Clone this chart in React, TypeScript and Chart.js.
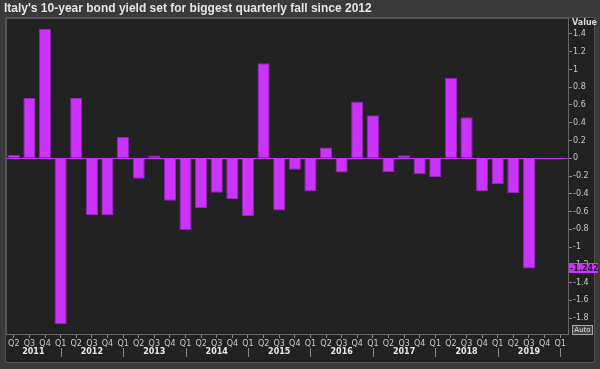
import React, { useEffect, useRef } from "react";
import { Chart, registerables } from "chart.js";

Chart.register(...registerables);

const chartTitle = "Italy's 10-year bond yield set for biggest quarterly fall since 2012";
const axisTitle = "Value";

const quarterLabels = [
  "Q2", "Q3", "Q4",
  "Q1", "Q2", "Q3", "Q4",
  "Q1", "Q2", "Q3", "Q4",
  "Q1", "Q2", "Q3", "Q4",
  "Q1", "Q2", "Q3", "Q4",
  "Q1", "Q2", "Q3", "Q4",
  "Q1", "Q2", "Q3", "Q4",
  "Q1", "Q2", "Q3", "Q4",
  "Q1", "Q2", "Q3", "Q4",
  "Q1",
];

const yearLabels = ["2011", "2012", "2013", "2014", "2015", "2016", "2017", "2018", "2019"];

const yieldChange = [
  0.04, 0.68, 1.46,
  -1.87, 0.68, -0.64, -0.64,
  0.24, -0.23, 0.03, -0.48,
  -0.81, -0.56, -0.39, -0.46,
  -0.65, 1.07, -0.59, -0.13,
  -0.37, 0.12, -0.16, 0.64,
  0.485, -0.155, 0.034, -0.18,
  -0.21, 0.906, 0.463, -0.37,
  -0.29, -0.395, -1.242, null,
  null,
];

const yTicks = [1.4, 1.2, 1, 0.8, 0.6, 0.4, 0.2, 0, -0.2, -0.4, -0.6, -0.8, -1, -1.2, -1.4, -1.6, -1.8];

const lastValue = -1.242;

const BAR = "#cc33ff";
const BAR_BORDER = "#9526b8";

const framePlugin = {
  id: "frame",
  beforeDraw(chart: any) {
    const ctx = chart.ctx;
    const { width, height } = chart;
    ctx.save();
    ctx.fillStyle = "#3a3a3a";
    ctx.fillRect(0, 0, width, height);
    ctx.fillStyle = "#222222";
    ctx.fillRect(6, 18, 588, 344);
    ctx.strokeStyle = "#555555";
    ctx.lineWidth = 1;
    ctx.strokeRect(5.5, 17.5, 589, 345);
    ctx.restore();
  },
  afterDraw(chart: any) {
    const ctx = chart.ctx;
    const xs = chart.scales.x;
    const ys = chart.scales.y;
    const area = chart.chartArea;
    ctx.save();
    // title
    ctx.font = 'bold 12px "Liberation Sans"';
    ctx.fillStyle = "#e4e4e4";
    ctx.textBaseline = "middle";
    ctx.textAlign = "left";
    ctx.fillText(chartTitle, 4, 9);

    // plot frame top / left
    ctx.strokeStyle = "#555555";
    ctx.beginPath();
    ctx.moveTo(area.left + 0.5, area.bottom);
    ctx.lineTo(area.left + 0.5, area.top + 0.5);
    ctx.lineTo(area.right, area.top + 0.5);
    ctx.stroke();

    // year separators and labels
    const q1Idx: number[] = [];
    quarterLabels.forEach((q, i) => {
      if (q === "Q1") q1Idx.push(i);
    });
    ctx.strokeStyle = "#8a8a8a";
    ctx.beginPath();
    q1Idx.forEach((i) => {
      const x = Math.round(xs.getPixelForValue(i)) + 0.5;
      ctx.moveTo(x, 348);
      ctx.lineTo(x, 357);
    });
    ctx.stroke();
    ctx.font = 'bold 8px "DejaVu Sans"';
    ctx.fillStyle = "#e8e8e8";
    ctx.textAlign = "center";
    yearLabels.forEach((y, k) => {
      const start = k === 0 ? area.left : xs.getPixelForValue(q1Idx[k - 1]);
      const end = xs.getPixelForValue(q1Idx[k]);
      ctx.fillText(y, (start + end) / 2, 352);
    });

    // axis title
    ctx.font = 'bold 8px "DejaVu Sans"';
    ctx.fillStyle = "#d8d8d8";
    ctx.textAlign = "left";
    ctx.fillText(axisTitle, 572, 23);

    // last value highlight
    const yv = ys.getPixelForValue(lastValue);
    ctx.fillStyle = BAR;
    ctx.fillRect(569, Math.round(yv) - 5, 29, 10);
    ctx.fillStyle = "#1a1a1a";
    ctx.font = 'bold 8px "DejaVu Sans"';
    ctx.fillText(String(lastValue), 570, yv + 0.5);

    // Auto box
    ctx.fillStyle = "#444444";
    ctx.fillRect(573, 326, 19, 8);
    ctx.strokeStyle = "#a8a8a8";
    ctx.strokeRect(572.5, 325.5, 20, 9);
    ctx.fillStyle = "#e0e0e0";
    ctx.font = '7px "DejaVu Sans"';
    ctx.textAlign = "center";
    ctx.fillText("Auto", 582.5, 330.5);
    ctx.restore();
  },
};

export default function App() {
  const ref = useRef<HTMLCanvasElement | null>(null);
  useEffect(() => {
    if (!ref.current) return;
    const chart = new Chart(ref.current, {
      type: "bar",
      data: {
        labels: quarterLabels,
        datasets: [
          {
            data: yieldChange,
            backgroundColor: BAR,
            borderColor: BAR_BORDER,
            borderWidth: 1,
            barPercentage: 0.78,
            categoryPercentage: 1,
          },
        ],
      },
      options: {
        responsive: false,
        animation: false,
        layout: { padding: { left: 6, top: 18, right: 0, bottom: 0 } },
        plugins: {
          legend: { display: false },
          title: { display: false },
          tooltip: { enabled: false },
        },
        scales: {
          x: {
            offset: true,
            afterFit: (s: any) => {
              s.height = 35;
            },
            grid: {
              offset: false,
              drawOnChartArea: false,
              tickLength: 4,
              tickColor: "#8a8a8a",
            },
            border: { display: true, color: "#666666" },
            ticks: {
              autoSkip: false,
              maxRotation: 0,
              padding: 1,
              color: "#c8c8c8",
              font: { family: "DejaVu Sans", size: 8 },
            },
          },
          y: {
            position: "right",
            min: -1.98,
            max: 1.58,
            afterFit: (s: any) => {
              s.width = 32;
            },
            afterBuildTicks: (s: any) => {
              s.ticks = yTicks.map((v) => ({ value: v }));
            },
            grid: {
              drawOnChartArea: true,
              color: (c: any) => (c.tick && c.tick.value === 0 ? BAR : "rgba(0,0,0,0)"),
              tickColor: "#8a8a8a",
              tickLength: 4,
            },
            border: { display: true, color: "#666666" },
            ticks: {
              padding: 1,
              color: "#c8c8c8",
              font: { family: "DejaVu Sans", size: 8 },
              callback: (v: any) => String(Number(Number(v).toFixed(1))),
            },
          },
        },
      },
      plugins: [framePlugin],
    });
    return () => chart.destroy();
  }, []);
  return (
    <div style={{ position: "fixed", left: 0, top: 0, width: 600, height: 369 }}>
      <canvas ref={ref} width={600} height={369} />
    </div>
  );
}
